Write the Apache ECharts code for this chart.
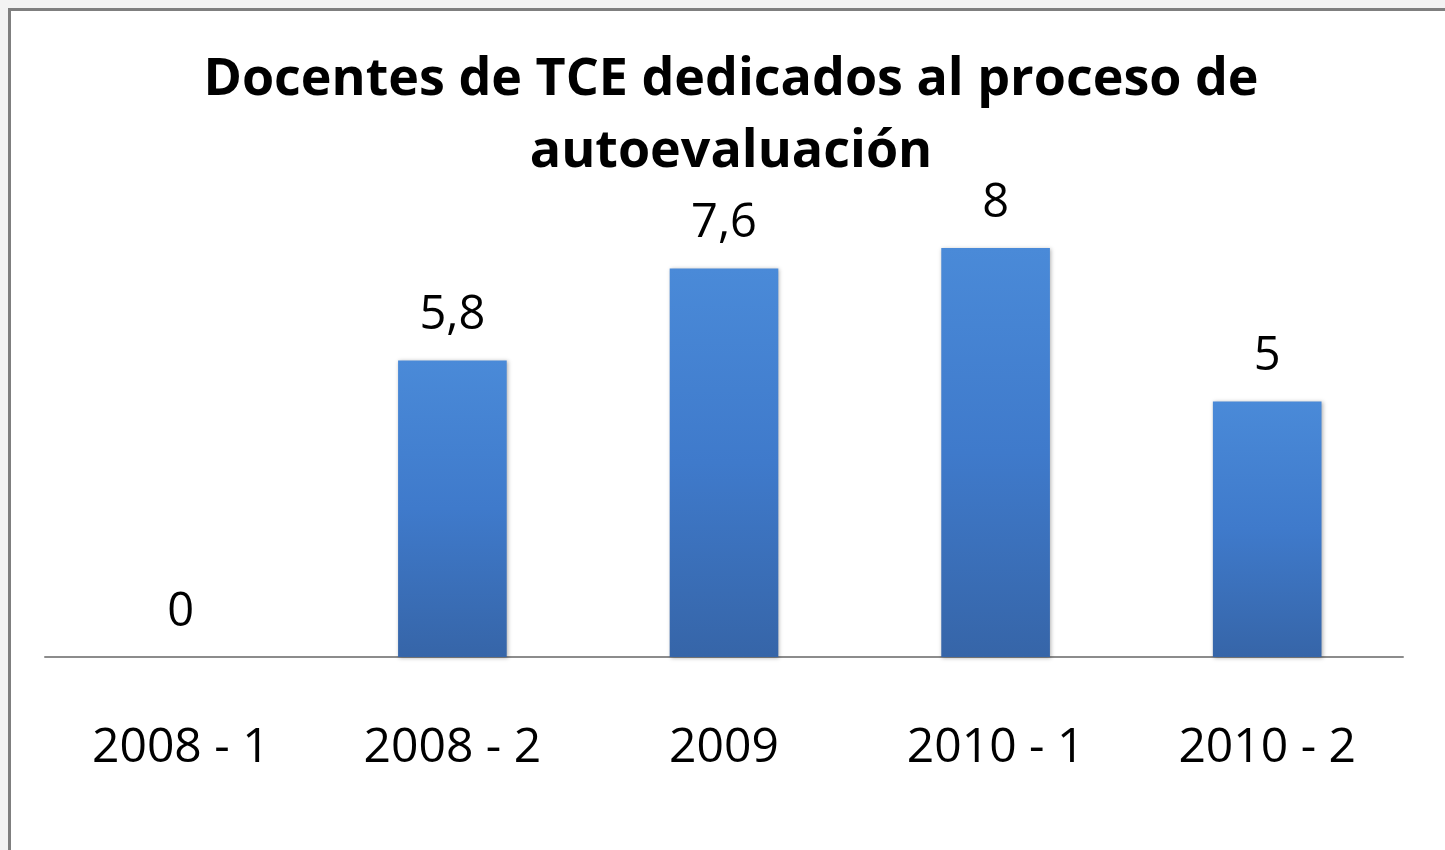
<!DOCTYPE html>
<html>
<head>
<meta charset="utf-8">
<script src="https://cdn.jsdelivr.net/npm/echarts@6/dist/echarts.min.js"></script>
<style>
html,body{margin:0;padding:0;background:#f3f3f3;}
#c{width:1445px;height:850px;}
</style>
</head>
<body>
<div id="c"></div>
<script>
const titleText = 'Docentes de TCE dedicados al proceso de\nautoevaluación';
const categories = ['2008 - 1', '2008 - 2', '2009', '2010 - 1', '2010 - 2'];
const values = [0, 5.8, 7.6, 8, 5];

const chart = echarts.init(document.getElementById('c'));
const font = '"Open Sans", "Noto Sans", sans-serif';
chart.setOption({
  backgroundColor: '#f3f3f3',
  animation: false,
  graphic: [{
    type: 'rect',
    z: -10,
    shape: {x: 9.5, y: 9.5, width: 1500, height: 900},
    style: {fill: '#ffffff', stroke: '#7f7f7f', lineWidth: 3}
  }],
  title: {
    text: titleText,
    left: 726,
    textAlign: 'center',
    top: 39,
    textStyle: {fontFamily: font, fontSize: 52, fontWeight: 'bold', color: '#000', lineHeight: 72}
  },
  grid: {left: 45, right: 42, top: 248, bottom: 193},
  xAxis: {
    type: 'category',
    data: categories,
    axisLine: {lineStyle: {color: '#8c8c8c', width: 2}},
    axisTick: {show: false},
    axisLabel: {fontFamily: font, fontSize: 48, color: '#000', margin: 67}
  },
  yAxis: {type: 'value', min: 0, max: 8, show: false, splitLine: {show: false}},
  series: [{
    type: 'bar',
    data: values,
    barWidth: '40%',
    itemStyle: {
      color: new echarts.graphic.LinearGradient(0, 0, 0, 1, [
        {offset: 0, color: '#4a8ad8'},
        {offset: 0.5, color: '#3f7acb'},
        {offset: 1, color: '#3665a8'}
      ]),
      shadowColor: 'rgba(0,0,0,0.3)',
      shadowBlur: 4,
      shadowOffsetX: 1,
      shadowOffsetY: 1
    },
    label: {
      show: true,
      position: 'top',
      distance: 21,
      fontFamily: font,
      fontSize: 47,
      color: '#000',
      formatter: p => String(p.value).replace('.', ',')
    }
  }]
});
</script>
</body>
</html>
